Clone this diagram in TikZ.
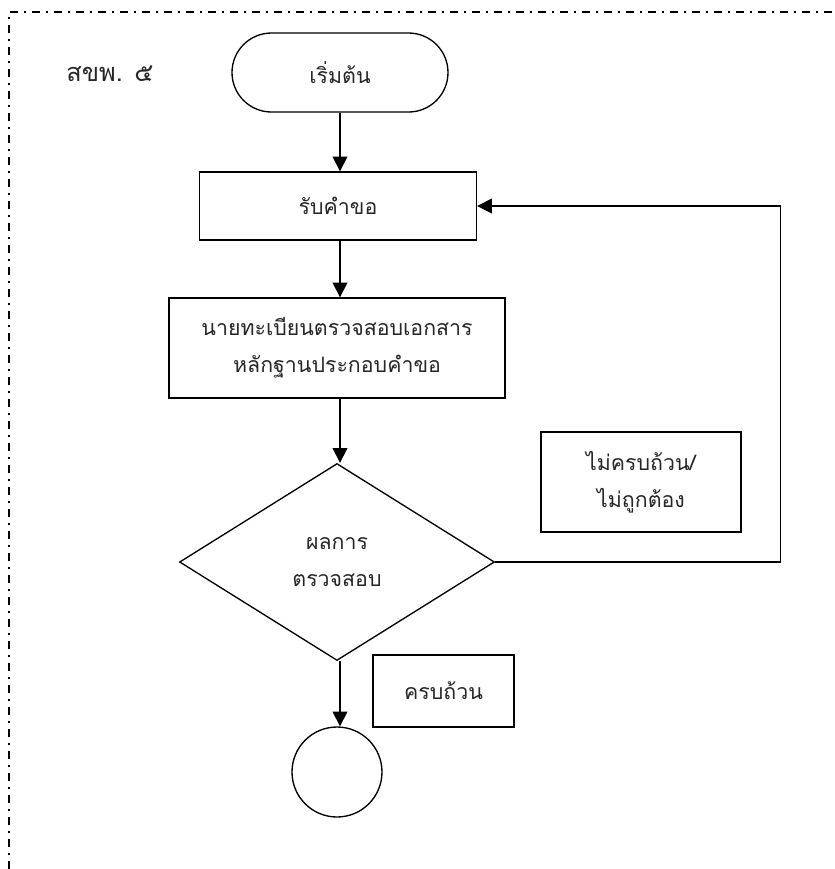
\documentclass[tikz,border=0pt]{standalone}
\usepackage{fontspec}
\setmainfont[Script=Thai]{Loma}
\usepackage{tikz}
\usetikzlibrary{arrows.meta, shapes.geometric, positioning}

\begin{document}
\begin{tikzpicture}[
    x=0.75pt, y=-0.75pt,
    every node/.style={font=\fontsize{16pt}{28pt}\selectfont, text=black!85},
    term/.style={rectangle, draw, line width=1pt, rounded corners=29.6pt, minimum width=162pt, minimum height=59.25pt},
    proc/.style={rectangle, draw, line width=1pt, align=center},
    decision/.style={diamond, draw, line width=1pt, aspect=1.6, inner sep=0pt, minimum width=236.25pt, minimum height=147.75pt, align=center},
    note/.style={rectangle, draw, line width=1pt, align=center},
    terminal/.style={circle, draw, line width=1pt, minimum size=67.5pt},
    arrow/.style={-{Triangle[length=11pt, width=11pt]}, line width=1pt},
    frame/.style={line width=1pt, dash pattern=on 6pt off 4.5pt on 1.5pt off 4.5pt}
]
    \useasboundingbox (0,0) rectangle (835,869);

    % Frame
    \draw[frame] (9,869) -- (9,12) -- (835,12);

    % Form code
    \node[font=\fontsize{19pt}{24pt}\selectfont] (title) at (110,74) {สขพ. ๕};

    % Start
    \node[term] (start) at (340,72.5) {เริ่มต้น};

    % Receive request
    \node[proc, minimum width=207.75pt, minimum height=51pt] (recv) at (338,206) {รับคำขอ};

    % Registrar checks documents
    \node[proc, minimum width=252pt, minimum height=75pt] (verify) at (337,348) {นายทะเบียนตรวจสอบเอกสาร\\หลักฐานประกอบคำขอ};

    % Result of check
    \node[decision] (result) at (337,562) {ผลการ\\ตรวจสอบ};

    % Branch labels
    \node[note, minimum width=150pt, minimum height=75pt] (fail) at (641,482) {ไม่ครบถ้วน/\\ไม่ถูกต้อง};
    \node[note, minimum width=105.75pt, minimum height=54pt] (pass) at (443.5,691) {ครบถ้วน};

    % End connector
    \node[terminal] (stop) at (337,772) {};

    % Main path
    \draw[arrow] (start.south -| 340,0) -- (recv.north -| 340,0);
    \draw[arrow] (recv.south -| 340,0) -- (verify.north -| 340,0);
    \draw[arrow] (verify.south -| 340,0) -- (result.north -| 340,0);
    \draw[arrow] (result.south -| 340,0) -- (stop.north -| 340,0);

    % Loop back
    \draw[arrow] (result.east) -- ++(285,0) |- (recv.east);
\end{tikzpicture}
\end{document}
